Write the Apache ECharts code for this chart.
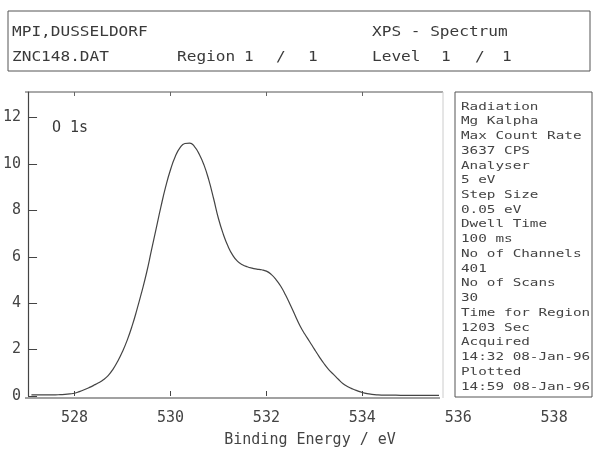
<!DOCTYPE html>
<html><head><meta charset="utf-8">
<script src="https://cdn.jsdelivr.net/npm/echarts@6/dist/echarts.min.js"></script>
<style>html,body{margin:0;padding:0;background:#fff}#c{width:598px;height:453px}</style>
</head><body><div id="c"></div>
<script>
// Binding energy (eV) and intensity (x1000 counts)
var energy = [527.1,527.2,527.3,527.4,527.5,527.6,527.7,527.8,527.9,528.0,
  528.1,528.2,528.3,528.4,528.5,528.6,528.7,528.8,528.9,529.0,
  529.1,529.2,529.3,529.4,529.5,529.6,529.7,529.8,529.9,530.0,
  530.1,530.2,530.3,530.4,530.5,530.6,530.7,530.8,530.9,531.0,
  531.1,531.2,531.3,531.4,531.5,531.6,531.7,531.8,531.9,532.0,
  532.1,532.2,532.3,532.4,532.5,532.6,532.7,532.8,532.9,533.0,
  533.1,533.2,533.3,533.4,533.5,533.6,533.7,533.8,533.9,534.0,
  534.1,534.2,534.3,534.4,534.6,534.8,535.0,535.2,535.4,535.6];
var intensity = [0.05,0.05,0.05,0.05,0.05,0.05,0.06,0.07,0.09,0.12,
  0.19,0.27,0.36,0.46,0.57,0.7,0.88,1.15,1.5,1.92,
  2.42,3.02,3.72,4.48,5.3,6.25,7.2,8.15,9.02,9.75,
  10.32,10.7,10.88,10.9,10.75,10.42,9.95,9.3,8.5,7.65,
  6.98,6.45,6.06,5.8,5.66,5.57,5.51,5.47,5.44,5.38,
  5.24,5.02,4.73,4.35,3.92,3.47,3.03,2.67,2.35,2.02,
  1.7,1.4,1.14,0.93,0.72,0.53,0.4,0.3,0.22,0.15,
  0.1,0.07,0.05,0.04,0.04,0.03,0.03,0.03,0.03,0.03];
var xTicks = [528,530,532,534,536,538];
var topTicks = [528,530,532,534];
var headerLeft1 = 'MPI,DUSSELDORF';
var headerLeft2 = 'ZNC148.DAT';
var headerRegion = ['Region', '1', '/', '1'];
var headerRight1 = 'XPS - Spectrum';
var headerLevel = ['Level', '1', '/', '1'];
var peakLabel = 'O 1s';
var infoLines = ['Radiation','Mg Kalpha','Max Count Rate','3637 CPS','Analyser','5 eV',
  'Step Size','0.05 eV','Dwell Time','100 ms','No of Channels','401','No of Scans','30',
  'Time for Region','1203 Sec','Acquired','14:32 08-Jan-96','Plotted','14:59 08-Jan-96'];

var data = energy.map(function(e,i){return [e,intensity[i]];});
var mono = '"DejaVu Sans Mono", "Liberation Mono", monospace';
var ink = '#3a3a3a';

var graphics = [];
// header box
graphics.push({type:'rect', shape:{x:8,y:11,width:582,height:60}, style:{fill:'none', stroke:'#555', lineWidth:1}});
function htext(t,x,y){
  graphics.push({type:'text', x:x, y:y, scaleX:1.15, style:{text:t, font:'14px '+mono, fill:ink, verticalAlign:'middle'}});
}
htext(headerLeft1, 12, 32);
htext(headerLeft2, 12, 57);
htext(headerRegion[0], 177, 57);
htext(headerRegion[1], 244, 57);
htext(headerRegion[2], 276, 57);
htext(headerRegion[3], 308, 57);
htext(headerRight1, 372, 32);
htext(headerLevel[0], 372, 57);
htext(headerLevel[1], 441, 57);
htext(headerLevel[2], 475, 57);
htext(headerLevel[3], 502, 57);
// plot frame (top, right, bottom baseline)
graphics.push({type:'line', shape:{x1:25,y1:92,x2:443,y2:92}, style:{stroke:'#555', lineWidth:1}});
graphics.push({type:'line', shape:{x1:443,y1:92,x2:443,y2:398}, style:{stroke:'#ccc', lineWidth:1}});
graphics.push({type:'line', shape:{x1:25,y1:398,x2:440,y2:398}, style:{stroke:'#444', lineWidth:1.2}});
// peak label
graphics.push({type:'text', x:52, y:128, style:{text:peakLabel, font:'15px '+mono, fill:ink, verticalAlign:'middle'}});
// info box
graphics.push({type:'rect', z:10, shape:{x:455,y:92,width:137,height:305}, style:{fill:'#fff', stroke:'#555', lineWidth:1}});
infoLines.forEach(function(t,i){
  graphics.push({type:'text', z:11, x:461, y:106.7 + i*14.74, scaleX:1.3, style:{text:t, font:'11px '+mono, fill:'#444', verticalAlign:'middle'}});
});

var chart = echarts.init(document.getElementById('c'), null, {renderer:'canvas'});
chart.setOption({
  animation:false,
  backgroundColor:'#fff',
  grid:{left:25, right:6, top:92, bottom:55},
  xAxis:[{
    type:'value', min:527.03, max:538.79, position:'bottom',
    axisLine:{show:false},
    axisTick:{show:true, inside:true, length:5, customValues:xTicks.slice(0,4), lineStyle:{color:'#444'}},
    axisLabel:{customValues:xTicks, margin:15, color:'#444', fontFamily:mono, fontSize:15},
    splitLine:{show:false},
    name:'Binding Energy / eV', nameLocation:'middle', nameGap:37,
    nameTextStyle:{color:'#444', fontFamily:mono, fontSize:15}
  },{
    type:'value', min:527.03, max:538.79, position:'top',
    axisLine:{show:false},
    axisTick:{show:true, inside:true, length:4, customValues:topTicks, lineStyle:{color:'#666'}},
    axisLabel:{show:false}, splitLine:{show:false}
  }],
  yAxis:{
    type:'value', min:0, max:13.1, interval:2,
    axisLine:{show:true, lineStyle:{color:'#444', width:1.2}},
    axisTick:{show:true, inside:true, length:9, lineStyle:{color:'#444'}},
    axisLabel:{margin:7, color:'#444', fontFamily:mono, fontSize:15, showMaxLabel:false},
    splitLine:{show:false}
  },
  series:[{
    type:'line', data:data, showSymbol:false, smooth:0.5,
    lineStyle:{color:'#444', width:1.2}
  }],
  graphic:graphics
});
</script></body></html>
